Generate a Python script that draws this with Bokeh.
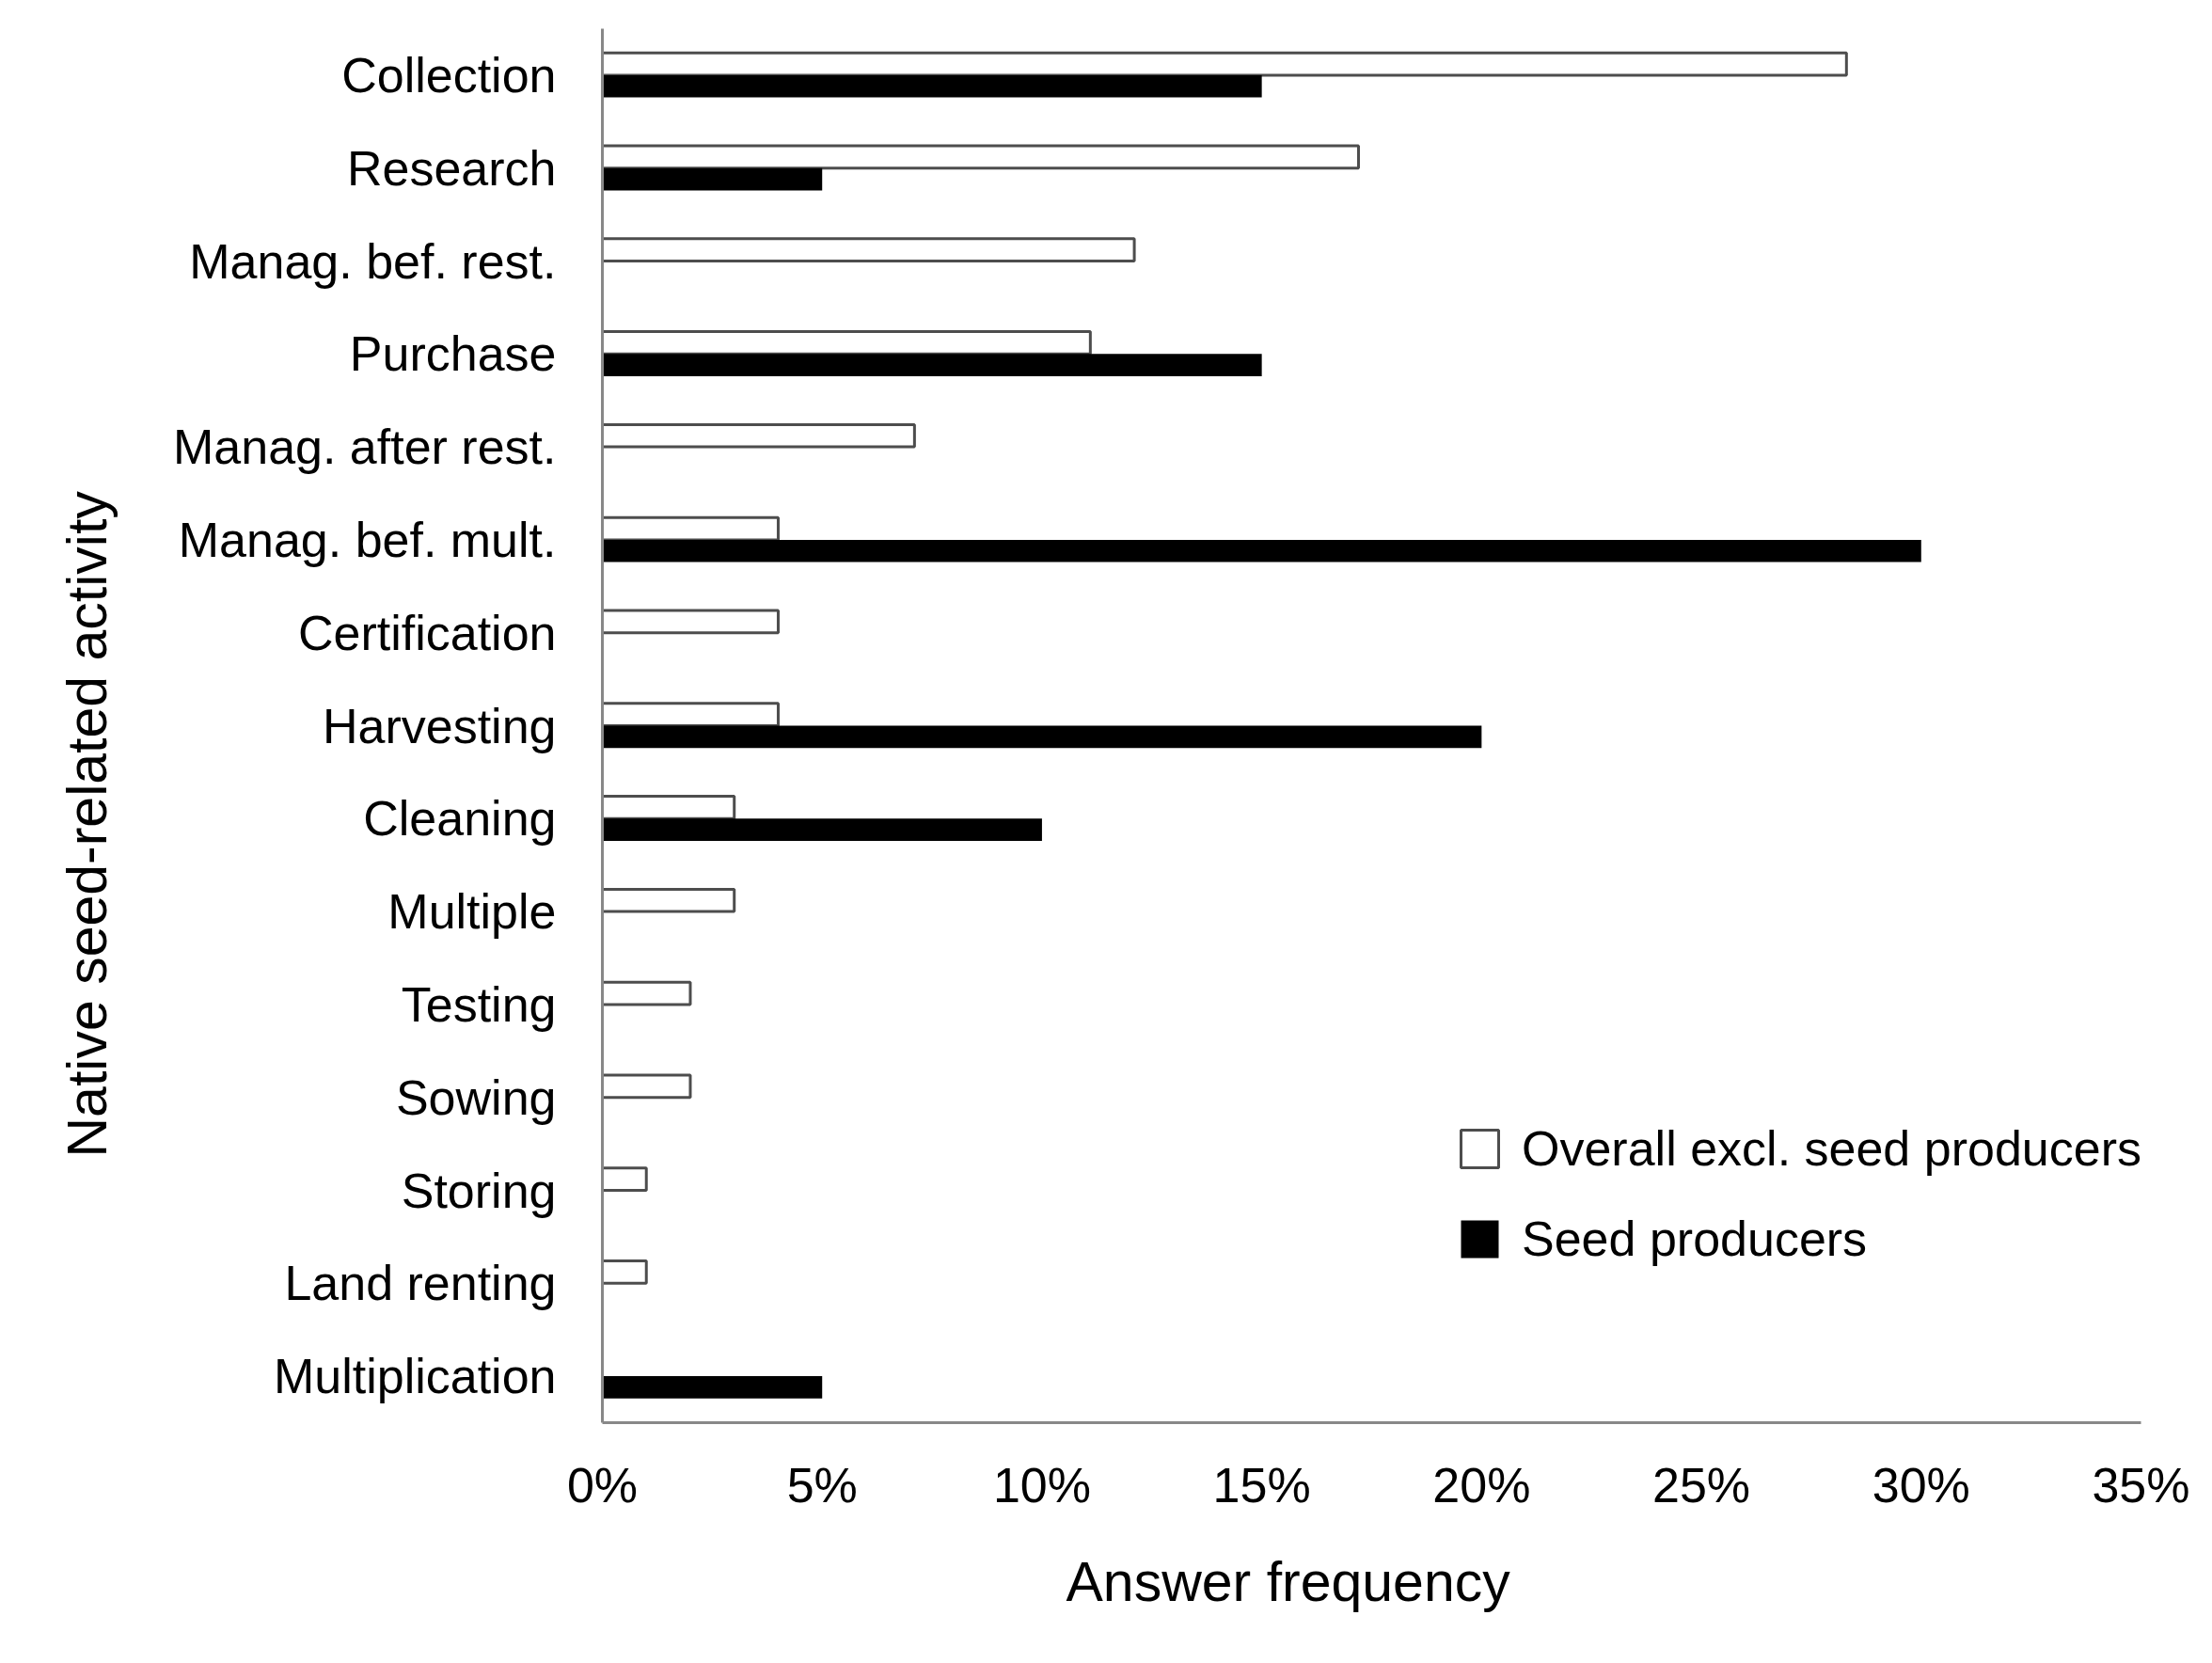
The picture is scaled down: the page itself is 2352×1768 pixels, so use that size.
from bokeh.plotting import figure
from bokeh.models import ColumnDataSource, FactorRange, FixedTicker, NumeralTickFormatter, Legend, LegendItem, Title
from bokeh.transform import dodge
from bokeh.embed import file_html
from bokeh.resources import INLINE

categories = ["Collection", "Research", "Manag. bef. rest.", "Purchase", "Manag. after rest.",
              "Manag. bef. mult.", "Certification", "Harvesting", "Cleaning", "Multiple",
              "Testing", "Sowing", "Storing", "Land renting", "Multiplication"]
overall_pct = [28.3, 17.2, 12.1, 11.1, 7.1, 4.0, 4.0, 4.0, 3.0, 3.0, 2.0, 2.0, 1.0, 1.0, 0.0]
producers_pct = [15.0, 5.0, 0.0, 15.0, 0.0, 30.0, 0.0, 20.0, 10.0, 0.0, 0.0, 0.0, 0.0, 0.0, 5.0]
x_ticks = [0, 0.05, 0.10, 0.15, 0.20, 0.25, 0.30, 0.35]

FONT = "Liberation Sans"

o_cat = [c for c, v in zip(categories, overall_pct) if v > 0]
o_val = [v / 100 for v in overall_pct if v > 0]
s_cat = [c for c, v in zip(categories, producers_pct) if v > 0]
s_val = [v / 100 for v in producers_pct if v > 0]

src_o = ColumnDataSource(dict(cat=o_cat, val=o_val))
src_s = ColumnDataSource(dict(cat=s_cat, val=s_val))

p = figure(width=2336, height=1752,
           y_range=FactorRange(factors=list(reversed(categories)), range_padding=0),
           x_range=(0, 0.35),
           output_backend="svg", toolbar_location=None,
           min_border_left=640, min_border_right=60, min_border_top=30, min_border_bottom=240)

r_o = p.hbar(y=dodge("cat", 0.12, range=p.y_range), right="val", left=0, height=0.24, source=src_o,
             fill_color="white", line_color="#4d4d4d", line_width=3)
r_s = p.hbar(y=dodge("cat", -0.12, range=p.y_range), right="val", left=0, height=0.24, source=src_s,
             fill_color="black", line_color="black", line_width=0)

p.xgrid.visible = False
p.ygrid.visible = False
p.outline_line_color = None

p.xaxis.ticker = FixedTicker(ticks=x_ticks)
p.xaxis.formatter = NumeralTickFormatter(format="0%")
for ax in (p.xaxis[0], p.yaxis[0]):
    ax.axis_line_color = "#888888"
    ax.axis_line_width = 3
    ax.major_tick_line_color = None
    ax.minor_tick_line_color = None
    ax.major_label_text_font = FONT
    ax.major_label_text_font_size = "52px"
    ax.major_label_text_color = "black"

p.xaxis.major_label_standoff = 31
p.yaxis.major_label_standoff = 43

x_title = Title(text="Answer frequency", align="left", offset=493, standoff=72,
                text_font=FONT, text_font_size="59px", text_font_style="normal", text_color="black")
y_title = Title(text="Native seed-related activity", align="left", offset=282, standoff=110,
                text_font=FONT, text_font_size="59px", text_font_style="normal", text_color="black")
p.add_layout(x_title, "below")
p.add_layout(y_title, "left")

legend = Legend(items=[LegendItem(label="Overall excl. seed producers", renderers=[r_o]),
                       LegendItem(label="Seed producers", renderers=[r_s])],
                location=(908, 165), orientation="vertical")
legend.label_text_font = FONT
legend.label_text_font_size = "52px"
legend.label_text_color = "black"
legend.glyph_width = 50
legend.glyph_height = 50
legend.spacing = 36
legend.padding = 0
legend.margin = 0
legend.label_standoff = 20
legend.border_line_color = None
legend.background_fill_alpha = 0
p.add_layout(legend)

open("out.html", "w").write(file_html(p, INLINE))
